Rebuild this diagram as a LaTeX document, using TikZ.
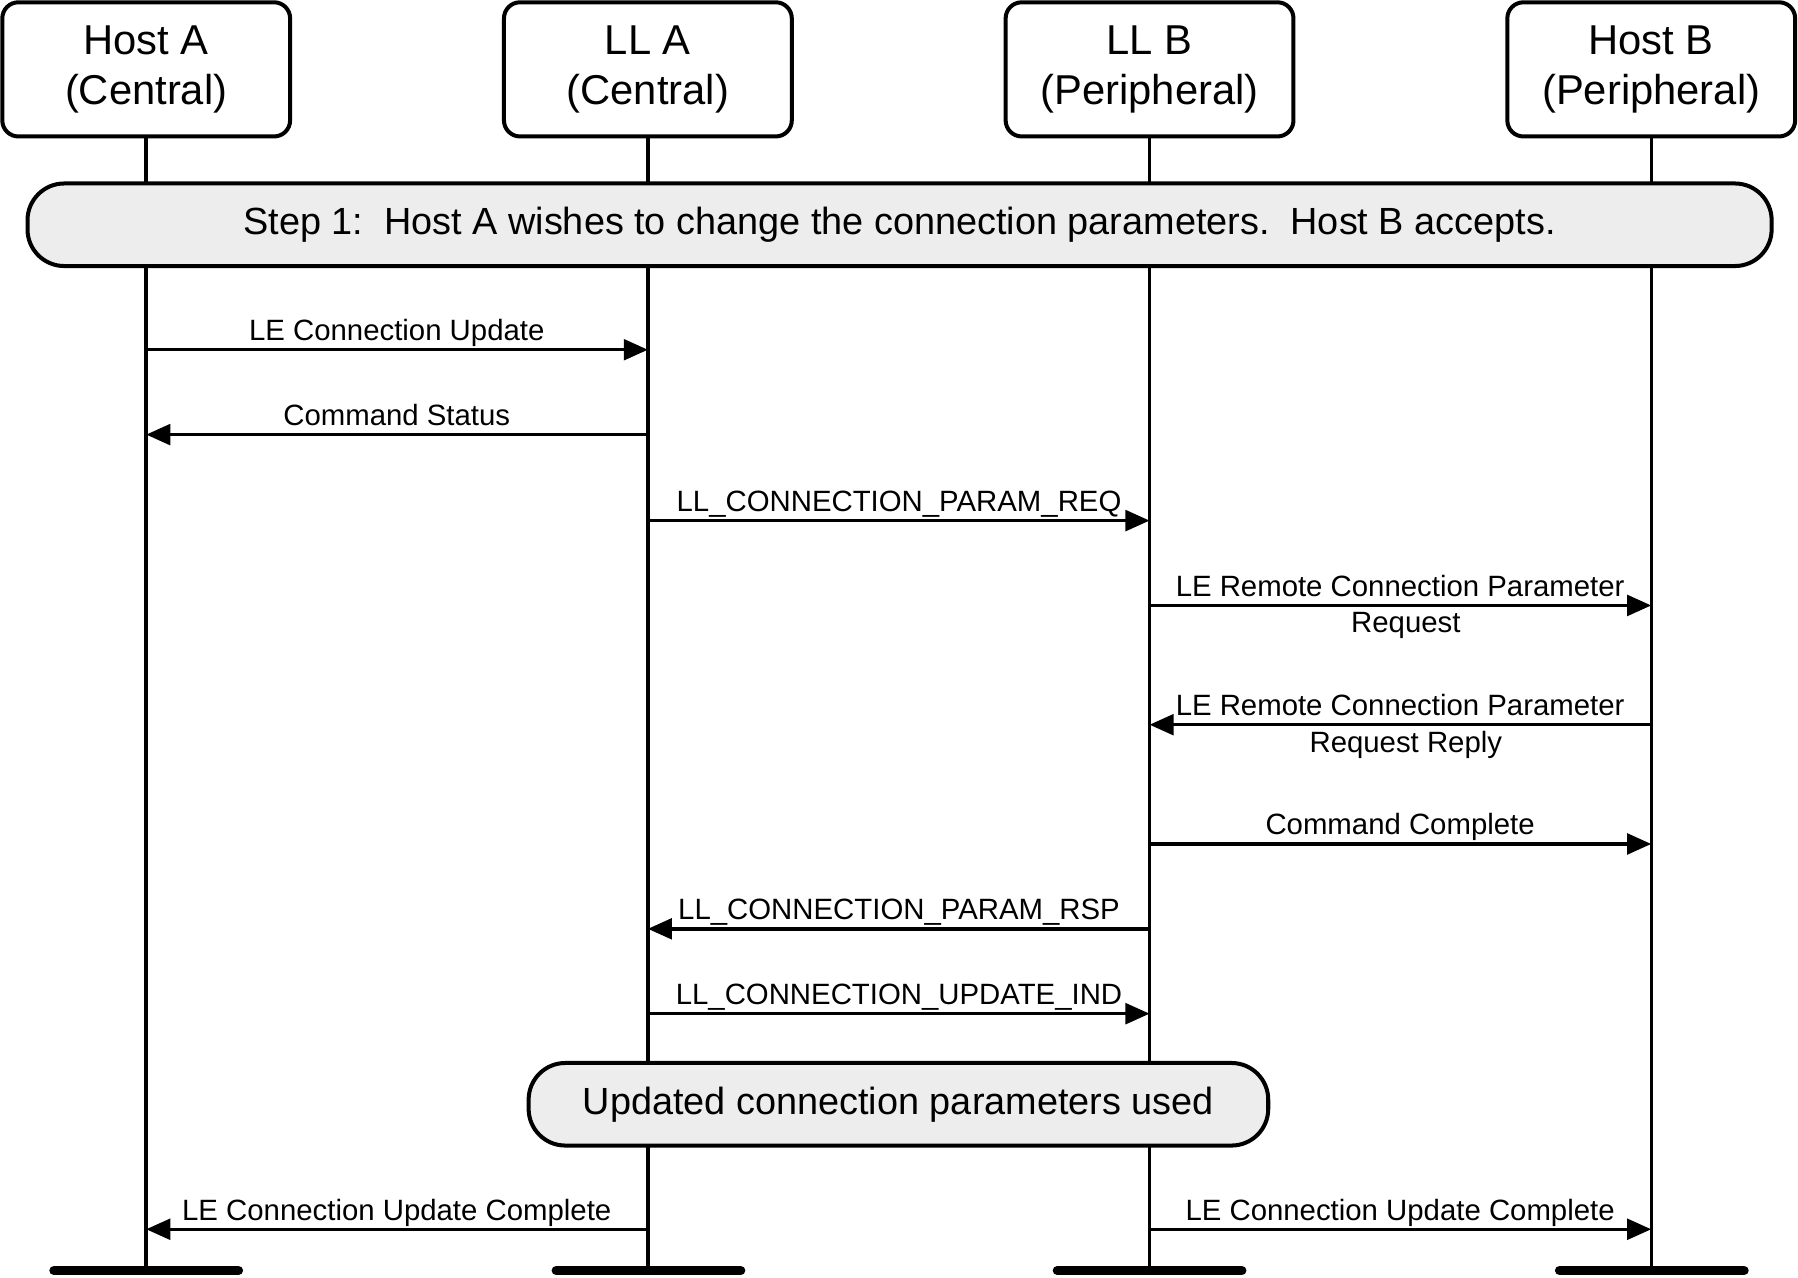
\documentclass[tikz,border=0pt]{standalone}
\usepackage{fontspec}
\setmainfont{Liberation Sans}
\usetikzlibrary{arrows.meta}
\frenchspacing
\tikzset{
  hdr/.style={draw, line width=3.5pt, rounded corners=14pt, minimum width=251pt, minimum height=117pt, align=center, inner sep=0pt, font=\fontsize{36.4}{43.5}\selectfont},
  note/.style={draw, line width=3.5pt, rounded corners=32pt, fill=black!7, minimum height=72pt, inner sep=0pt, font=\fontsize{33}{40}\selectfont},
  life/.style={line width=3pt},
  endbar/.style={line width=8pt, line cap=round},
  msg/.style={line width=3pt, -{Triangle[length=21pt,width=18pt]}},
  lbl/.style={anchor=base, inner sep=0pt, font=\fontsize{25.6}{30}\selectfont},
}
\begin{document}
\begin{tikzpicture}[x=1pt,y=-1pt]
\useasboundingbox (0,0) rectangle (1568,1114);
% headers
\node[hdr] (hA) at (127.5,60.5) {Host A\\(Central)};
\node[hdr] (lA) at (565,60.5) {LL A\\(Central)};
\node[hdr] (lB) at (1002.5,60.5) {LL B\\(Peripheral)};
\node[hdr] (hB) at (1440,60.5) {Host B\\(Peripheral)};
% lifeline ends
\coordinate (eA) at (127.5,1108);
\coordinate (eB) at (565,1108);
\coordinate (eC) at (1002.5,1108);
\coordinate (eD) at (1440,1108);
\draw[life] (hA.south) -- (eA);
\draw[life] (lA.south) -- (eB);
\draw[life] (lB.south) -- (eC);
\draw[life] (hB.south) -- (eD);
% end bars
\coordinate (bA1) at (47,1108); \coordinate (bA2) at (208,1108);
\coordinate (bB1) at (485,1108); \coordinate (bB2) at (646,1108);
\coordinate (bC1) at (922,1108); \coordinate (bC2) at (1083,1108);
\coordinate (bD1) at (1360,1108); \coordinate (bD2) at (1521,1108);
\draw[endbar] (bA1) -- (bA2);
\draw[endbar] (bB1) -- (bB2);
\draw[endbar] (bC1) -- (bC2);
\draw[endbar] (bD1) -- (bD2);
% notes
\node[note, minimum width=1521pt] (s1) at (784.5,196) {Step 1:\ \ Host A wishes to change the connection parameters.\ \ Host B accepts.};
\node[note, minimum width=645pt] (s2) at (783.5,963) {Updated connection parameters used};
% message anchor points
\coordinate (m1a) at (127.5,305); \coordinate (m1b) at (565,305);
\coordinate (m2a) at (565,379); \coordinate (m2b) at (127.5,379);
\coordinate (m3a) at (565,454); \coordinate (m3b) at (1002.5,454);
\coordinate (m4a) at (1002.5,528); \coordinate (m4b) at (1440,528);
\coordinate (m5a) at (1440,632); \coordinate (m5b) at (1002.5,632);
\coordinate (m6a) at (1002.5,736); \coordinate (m6b) at (1440,736);
\coordinate (m7a) at (1002.5,810); \coordinate (m7b) at (565,810);
\coordinate (m8a) at (565,884); \coordinate (m8b) at (1002.5,884);
\coordinate (m9a) at (565,1072); \coordinate (m9b) at (127.5,1072);
\coordinate (m10a) at (1002.5,1072); \coordinate (m10b) at (1440,1072);
\draw[msg] (m1a) -- (m1b);
\draw[msg] (m2a) -- (m2b);
\draw[msg] (m3a) -- (m3b);
\draw[msg] (m4a) -- (m4b);
\draw[msg] (m5a) -- (m5b);
\draw[msg] (m6a) -- (m6b);
\draw[msg] (m7a) -- (m7b);
\draw[msg] (m8a) -- (m8b);
\draw[msg] (m9a) -- (m9b);
\draw[msg] (m10a) -- (m10b);
% labels
\node[lbl] (t1) at (346,297) {LE Connection Update};
\node[lbl] (t2) at (346,371) {Command Status};
\node[lbl] (t3) at (784,446) {LL\_CONNECTION\_PARAM\_REQ};
\node[lbl] (t4) at (1221,520) {LE Remote Connection Parameter};
\node[lbl] (t4b) at (1226,552) {Request};
\node[lbl] (t5) at (1221,624) {LE Remote Connection Parameter};
\node[lbl] (t5b) at (1226,656) {Request Reply};
\node[lbl] (t6) at (1221,728) {Command Complete};
\node[lbl] (t7) at (784,802) {LL\_CONNECTION\_PARAM\_RSP};
\node[lbl] (t8) at (784,876) {LL\_CONNECTION\_UPDATE\_IND};
\node[lbl] (t9) at (346,1064) {LE Connection Update Complete};
\node[lbl] (t10) at (1221,1064) {LE Connection Update Complete};
\end{tikzpicture}
\end{document}
